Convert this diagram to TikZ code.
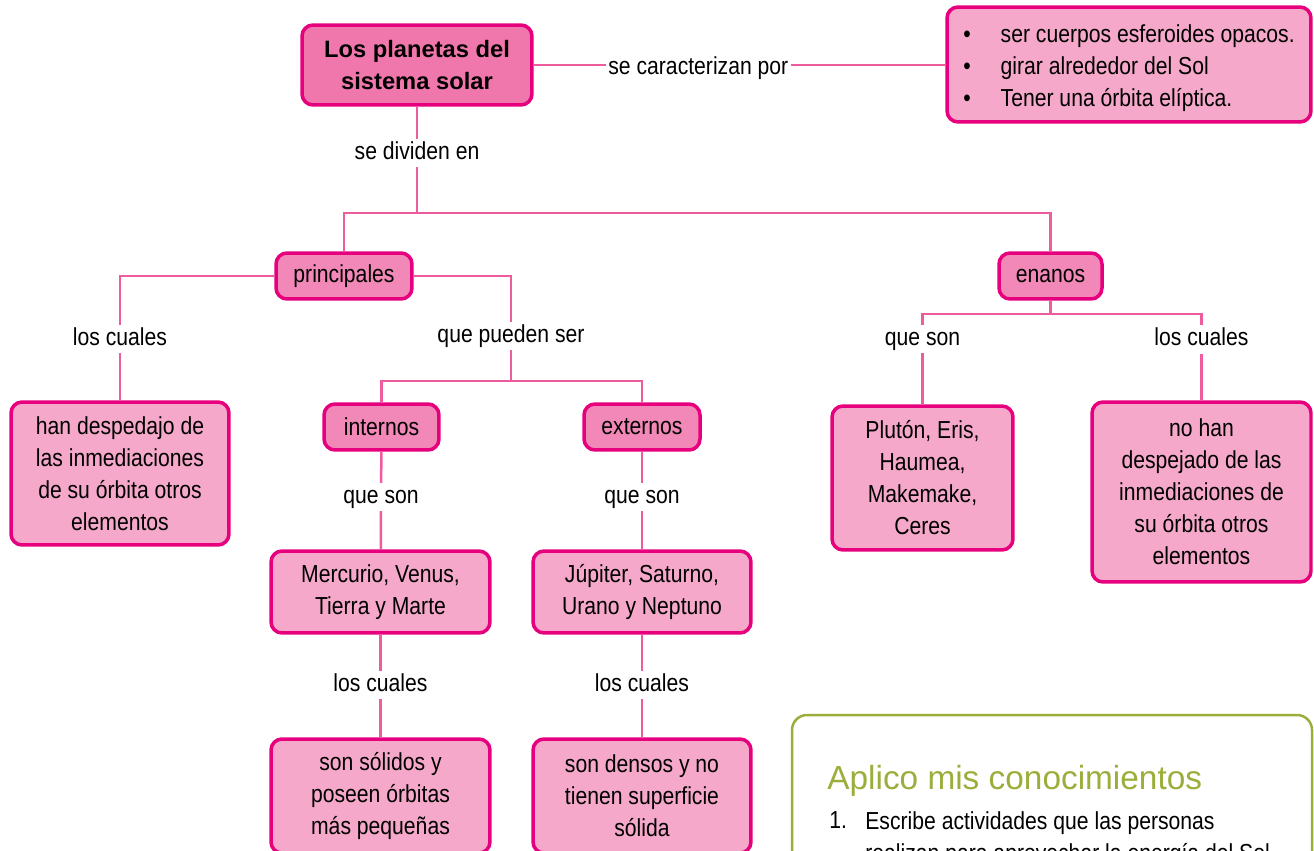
\documentclass[tikz,border=0pt]{standalone}
\usepackage{fontspec}
\setmainfont[FakeStretch=0.86]{Liberation Sans}
\newfontfamily\headfont{Liberation Sans}
\definecolor{magborder}{HTML}{E6007E}
\definecolor{leafpink}{HTML}{F5A8CA}
\definecolor{midpink}{HTML}{F288B7}
\definecolor{toppink}{HTML}{F077AC}
\definecolor{linkpink}{HTML}{EE5C9E}
\definecolor{aplgreen}{HTML}{9AAF3B}
\tikzset{
  box/.style={draw=magborder, line width=0.07cm, rounded corners=0.22cm,
    align=center, inner sep=2pt, font=\fontsize{14}{18.2}\selectfont},
  leaf/.style={box, fill=leafpink},
  mid/.style={box, fill=midpink},
  link/.style={draw=linkpink, line width=0.05cm},
  lbl/.style={fill=white, inner sep=1.5pt, text height=0.36cm, text depth=0.1cm,
    yshift=-0.06cm, font=\fontsize{14}{18.2}\selectfont},
}
\begin{document}
\begin{tikzpicture}[x=0.02cm, y=-0.02cm]
    \useasboundingbox (0,0) rectangle (1314,851);
    \clip (0,0) rectangle (1314,851);
    % boxes
    \node[box, fill=toppink, minimum width=4.6cm, minimum height=1.6cm,
      font=\headfont\bfseries\fontsize{13.5}{18.2}\selectfont] (titulo) at (417,65)
      {Los planetas del\\ sistema solar};
    \node[leaf, minimum width=7.28cm, minimum height=2.3cm, align=left] (rasgos) at (1129,64.5)
      {\rule{0pt}{0.52cm}\textbullet\hspace{0.6cm}ser cuerpos esferoides opacos.\\
       \textbullet\hspace{0.6cm}girar alrededor del Sol\\
       \textbullet\hspace{0.6cm}Tener una órbita elíptica.};
    \node[mid, minimum width=2.72cm, minimum height=0.92cm] (principales) at (344,276) {principales};
    \node[mid, minimum width=2.06cm, minimum height=0.92cm] (enanos) at (1050.5,276) {enanos};
    \node[leaf, minimum width=4.36cm, minimum height=2.86cm] (despejan) at (120,473.5)
      {han despedajo de\\ las inmediaciones\\ de su órbita otros\\ elementos};
    \node[mid, minimum width=2.3cm, minimum height=0.92cm] (internos) at (381.5,427) {internos};
    \node[mid, minimum width=2.32cm, minimum height=0.92cm] (externos) at (642,427) {externos};
    \node[leaf, minimum width=4.38cm, minimum height=1.64cm] (rocosos) at (380.5,592)
      {Mercurio, Venus,\\ Tierra y Marte};
    \node[leaf, minimum width=4.36cm, minimum height=1.64cm] (gaseosos) at (642,592)
      {Júpiter, Saturno,\\ Urano y Neptuno};
    \node[leaf, minimum width=4.38cm, minimum height=2.28cm] (solidos) at (380.5,796)
      {son sólidos y\\ poseen órbitas\\ más pequeñas};
    \node[leaf, minimum width=4.36cm, minimum height=2.28cm] (densos) at (642,796)
      {son densos y no\\ tienen superficie\\ sólida};
    \node[leaf, minimum width=3.62cm, minimum height=2.88cm] (pluton) at (922.5,478)
      {Plutón, Eris,\\ Haumea,\\ Makemake,\\ Ceres};
    \node[leaf, minimum width=4.38cm, minimum height=3.6cm] (nodespejan) at (1201.5,492)
      {no han\\ despejado de las\\ inmediaciones de\\ su órbita otros\\ elementos};
    % connectors
    \coordinate (reparto) at (417,213);
    \coordinate (tipos) at (511,381);
    \coordinate (reparto2) at (1050.5,314);
    \draw[link] (titulo.east) -- node[lbl, pos=0.4] {se caracterizan por} (titulo.east -| rasgos.west);
    \draw[link] (titulo) -- node[lbl, pos=0.41] {se dividen en} (reparto);
    \draw[link] (principales.north) |- (reparto) -| (enanos.north);
    \draw[link] (principales.west) -| node[lbl, pos=0.74] {los cuales} (despejan.north);
    \draw[link] (principales.east) -| node[lbl, pos=0.77] {que pueden ser} (tipos);
    \draw[link] (internos.north) |- (tipos) -| (externos.north);
    \draw[link] (internos) -- node[lbl, pos=0.43] {que son} (rocosos);
    \draw[link] (externos) -- node[lbl, pos=0.43] {que son} (gaseosos);
    \draw[link] (rocosos) -- node[lbl, pos=0.46] {los cuales} (solidos);
    \draw[link] (gaseosos) -- node[lbl, pos=0.46] {los cuales} (densos);
    \draw[link] (enanos) -- (reparto2);
    \draw[link] (reparto2) -| node[lbl, pos=0.62] {que son} (pluton.north);
    \draw[link] (reparto2) -| node[lbl, pos=0.63] {los cuales} (nodespejan.north);
    % activity box
    \draw[aplgreen, line width=0.05cm, rounded corners=0.3cm] (792,715) rectangle (1312,900);
    \node[anchor=base west, inner sep=0pt, text=aplgreen,
      font=\headfont\fontsize{19}{22}\selectfont] (aplico) at (827,789) {Aplico mis conocimientos};
    \node[anchor=base west, inner sep=0pt, font=\fontsize{14}{18.2}\selectfont] (num) at (829,828) {1.};
    \node[anchor=north west, inner sep=0pt, align=left,
      font=\fontsize{14}{18.2}\selectfont] (tarea) at ([yshift=-0.5pt]num.north -| 865,0)
      {Escribe actividades que las personas\\ realizan para aprovechar la energía del Sol.};
\end{tikzpicture}
\end{document}
